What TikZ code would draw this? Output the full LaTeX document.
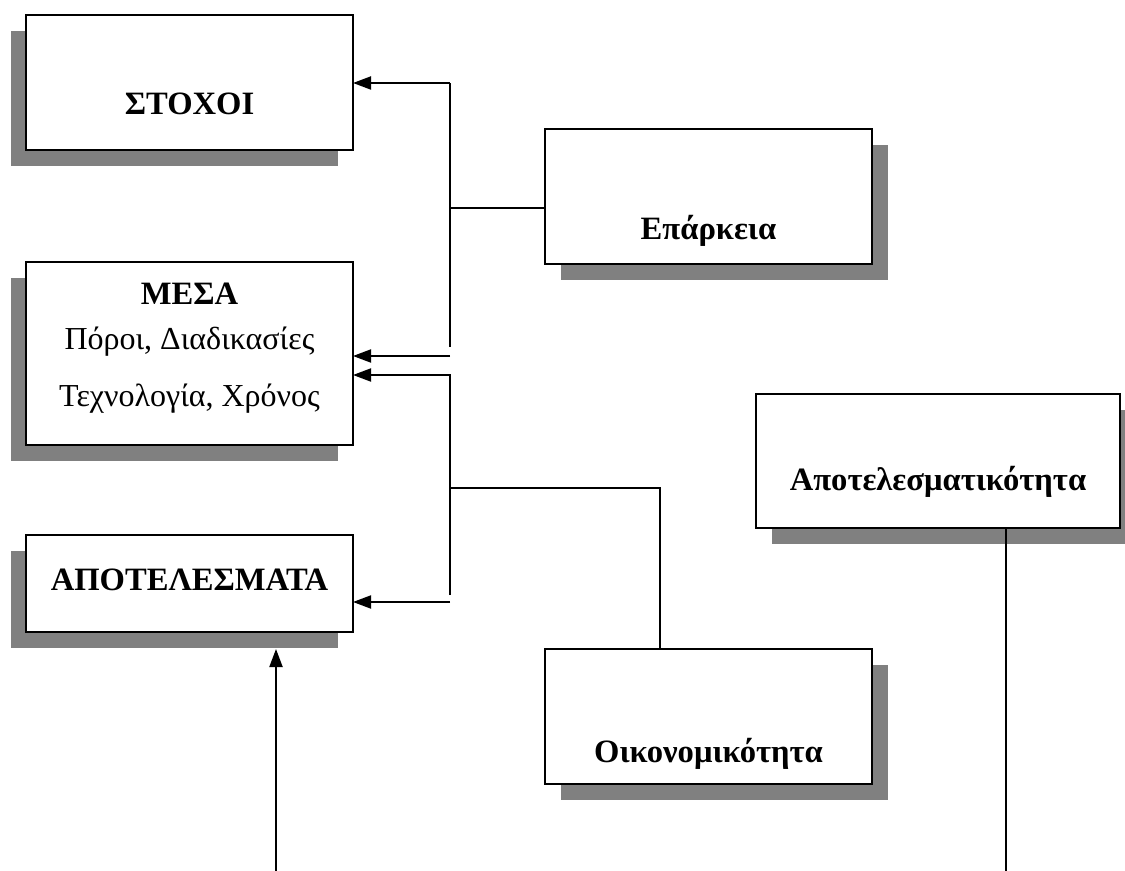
\documentclass[tikz,border=0pt]{standalone}
\usepackage{fontspec}
\setmainfont{Liberation Serif}
\usetikzlibrary{arrows.meta,shadows}
\begin{document}
\begin{tikzpicture}[x=0.5pt,y=-0.5pt,
  box/.style={draw=black, line width=1pt, fill=white, inner sep=0pt, outer sep=0pt,
    minimum width=163.5pt, minimum height=67.5pt},
  leftshadow/.style={general shadow={fill=black!50, shadow xshift=-7.5pt, shadow yshift=-8pt}},
  rightshadow/.style={general shadow={fill=black!50, shadow xshift=8pt, shadow yshift=-8pt}},
  title/.style={font=\fontsize{16.3pt}{25pt}\selectfont\bfseries, anchor=base, inner sep=0pt},
  plain/.style={font=\fontsize{16pt}{25pt}\selectfont, anchor=base, inner sep=0pt},
  link/.style={line width=1pt},
  arr/.style={line width=1pt, -{Triangle[length=9pt,width=6.5pt]}}
]
\useasboundingbox (0,0) rectangle (1125,871);

% left column
\node[box, leftshadow] (stoxoi) at (189.5,82.5) {};
\node[title] (stoxoiT) at (189.5,115) {ΣΤΟΧΟΙ};

\node[box, leftshadow, minimum height=91.5pt] (mesa) at (189.5,353.5) {};
\node[title] (mesaT) at (189.5,305) {ΜΕΣΑ};
\node[plain] (mesaA) at (189.5,350) {Πόροι, Διαδικασίες};
\node[plain] (mesaB) at (189.5,407) {Τεχνολογία, Χρόνος};

\node[box, leftshadow, minimum height=48.5pt] (apot) at (189.5,583.5) {};
\node[title] (apotT) at (189.5,590) {ΑΠΟΤΕΛΕΣΜΑΤΑ};

% right column
\node[box, rightshadow] (eparkeia) at (708.5,196.5) {};
\node[title] (eparkeiaT) at (708.5,240) {Επάρκεια};

\node[box, rightshadow] (oikon) at (708.5,716.5) {};
\node[title] (oikonT) at (708.5,762) {Οικονομικότητα};

\node[box, rightshadow, minimum width=182pt, minimum height=67pt] (apotel) at (938,461) {};
\node[title] (apotelT) at (938,491) {Αποτελεσματικότητα};

% connectors
\coordinate (jTop) at (450,83);
\coordinate (jMid) at (450,347);
\draw[link] (jMid) -- (jTop);
\draw[arr] (jTop) -- (jTop -| stoxoi.east);

\coordinate (jEp) at (450,208);
\draw[link] (jEp) -- (jEp -| eparkeia.west);

\coordinate (aMesa) at (450,356);
\draw[arr] (aMesa) -- (aMesa -| mesa.east);

\coordinate (jLow) at (450,375);
\coordinate (jBot) at (450,595);
\draw[arr] (jBot) -- (jLow) -- (jLow -| mesa.east);

\coordinate (aApot) at (450,602);
\draw[arr] (aApot) -- (aApot -| apot.east);

\coordinate (jOik) at (450,488);
\coordinate (kOik) at (660,488);
\draw[link] (jOik) -- (kOik) -- (kOik |- oikon.north);

\coordinate (inBot) at (276,871);
\coordinate (inTop) at (276,649);
\draw[arr] (inBot) -- (inTop);

\coordinate (outBot) at (1006,871);
\draw[link] (apotel.south -| outBot) -- (outBot);
\end{tikzpicture}
\end{document}
